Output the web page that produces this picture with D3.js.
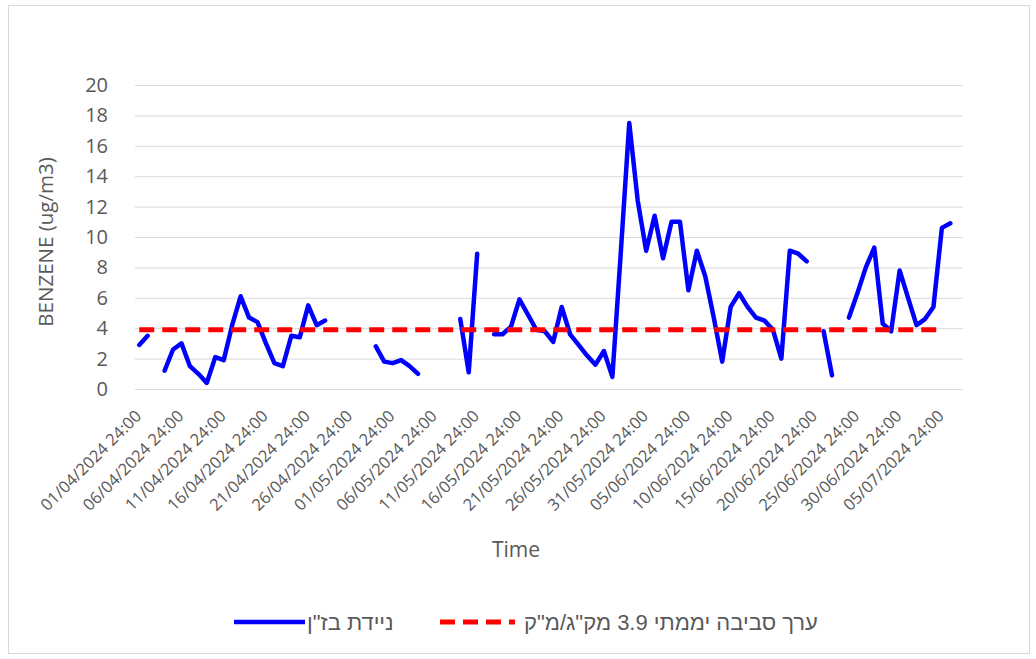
<!DOCTYPE html>
<html>
<head>
<meta charset="utf-8">
<script src="https://cdn.jsdelivr.net/npm/d3@7"></script>
<style>
  body { margin: 0; background: #fff; }
  svg { display: block; }
  text { font-family: "Open Sans", sans-serif; fill: #595959; }
</style>
</head>
<body>
<div id="chart"></div>
<script>
// daily categories 01/04/2024 .. 07/07/2024
const dates = d3.timeDay.range(new Date(2024, 3, 1), new Date(2024, 6, 8)).map(d3.timeFormat("%d/%m/%Y"));

// benzene, ug/m3 (null = no measurement)
const benzene = [
  2.9, 3.5, null, 1.2, 2.6, 3.0, 1.5, 1.0, 0.4, 2.1,
  1.9, 4.2, 6.1, 4.7, 4.4, 3.0, 1.7, 1.5, 3.5, 3.4,
  5.5, 4.2, 4.5, null, null, null, null, null, 2.8, 1.8,
  1.7, 1.9, 1.5, 1.0, null, null, null, null, 4.6, 1.1,
  8.9, null, 3.6, 3.6, 4.1, 5.9, 4.9, 3.9, 3.8, 3.1,
  5.4, 3.6, 2.9, 2.2, 1.6, 2.5, 0.8, 9.0, 17.5, 12.4,
  9.1, 11.4, 8.6, 11.0, 11.0, 6.5, 9.1, 7.4, 4.7, 1.8,
  5.4, 6.3, 5.4, 4.7, 4.5, 3.9, 2.0, 9.1, 8.9, 8.4,
  null, 3.8, 0.9, null, 4.7, 6.3, 8.0, 9.3, 4.3, 3.8,
  7.8, 6.0, 4.2, 4.6, 5.4, 10.6, 10.9, null
];

// daily ambient reference value, drawn over this date span
const limitValue = 3.9;
const limitSpan = ["01/04/2024", "05/07/2024"];

const tickLabels = [
  "01/04/2024", "06/04/2024", "11/04/2024", "16/04/2024", "21/04/2024",
  "26/04/2024", "01/05/2024", "06/05/2024", "11/05/2024", "16/05/2024",
  "21/05/2024", "26/05/2024", "31/05/2024", "05/06/2024", "10/06/2024",
  "15/06/2024", "20/06/2024", "25/06/2024", "30/06/2024", "05/07/2024"
];
const yTicks = [0, 2, 4, 6, 8, 10, 12, 14, 16, 18, 20];

const seriesNames = ['ניידת בז"ן', 'ערך סביבה יממתי 3.9 מק"ג/מ"ק'];

const width = 1036, height = 659;
const plotLeft = 135, plotRight = 963, plotTop = 85, plotBottom = 389;

const svg = d3.select("#chart").append("svg")
  .attr("width", width)
  .attr("height", height);

// chart frame
svg.append("rect")
  .attr("x", 8.5).attr("y", 5.5)
  .attr("width", 1021).attr("height", 648)
  .attr("fill", "#fff")
  .attr("stroke", "#d9d9d9");

const x = d3.scaleBand().domain(dates).range([plotLeft, plotRight]);
const y = d3.scaleLinear().domain([0, 20]).range([plotBottom, plotTop]);
const cx = d => x(d) + x.bandwidth() / 2;

// y axis + gridlines
const yAxis = svg.append("g")
  .attr("transform", `translate(${plotLeft},0)`)
  .call(d3.axisLeft(y).tickValues(yTicks).tickSize(-(plotRight - plotLeft)).tickPadding(27));
yAxis.select(".domain").remove();
yAxis.selectAll(".tick line").attr("stroke", "#d9d9d9");
yAxis.selectAll(".tick text")
  .style("font-size", "20px")
  .style("font-family", "'Open Sans', sans-serif")
  .attr("fill", "#595959");

// x labels, rotated
svg.append("g").selectAll("text")
  .data(tickLabels)
  .join("text")
  .attr("transform", d => `translate(${cx(d) - 1},${plotBottom + 24}) rotate(-45)`)
  .attr("text-anchor", "end")
  .attr("dy", "0.35em")
  .style("font-size", "16.5px")
  .text(d => d + " 24:00");

// axis titles
svg.append("text")
  .attr("transform", `translate(46,${(plotTop + plotBottom) / 2 + 5}) rotate(-90)`)
  .attr("text-anchor", "middle")
  .attr("dy", "0.35em")
  .style("font-size", "20.5px")
  .text("BENZENE (ug/m3)");

svg.append("text")
  .attr("x", 516).attr("y", 557)
  .attr("text-anchor", "middle")
  .style("font-size", "21px")
  .text("Time");

// benzene series
const line = d3.line()
  .defined(d => d != null)
  .x((d, i) => cx(dates[i]))
  .y(d => y(d));

svg.append("path")
  .datum(benzene)
  .attr("d", line)
  .attr("fill", "none")
  .attr("stroke", "#0000ff")
  .attr("stroke-width", 4.5)
  .attr("stroke-linejoin", "round")
  .attr("stroke-linecap", "round");

// reference line
svg.append("path")
  .datum(limitSpan)
  .attr("d", d3.line().x(d => cx(d)).y(() => y(limitValue)))
  .attr("fill", "none")
  .attr("stroke", "#ff0000")
  .attr("stroke-width", 5)
  .attr("stroke-dasharray", "15,8");

// legend
const legend = svg.append("g");
legend.append("line")
  .attr("x1", 234).attr("x2", 305)
  .attr("y1", 622).attr("y2", 622)
  .attr("stroke", "#0000ff")
  .attr("stroke-width", 4.5);
legend.append("line")
  .attr("x1", 440).attr("x2", 515)
  .attr("y1", 622).attr("y2", 622)
  .attr("stroke", "#ff0000")
  .attr("stroke-width", 5)
  .attr("stroke-dasharray", "15,8");

const legendLeft = [307, 524];
seriesNames.forEach((name, i) => {
  const t = legend.append("text")
    .attr("x", 0).attr("y", 622)
    .attr("dy", "0.35em")
    .attr("direction", "rtl")
    .style("font-family", "'Liberation Sans', 'DejaVu Sans', sans-serif")
    .style("font-size", "22px")
    .text(name);
  const bb = t.node().getBBox();
  t.attr("x", legendLeft[i] - bb.x);
});
</script>
</body>
</html>
